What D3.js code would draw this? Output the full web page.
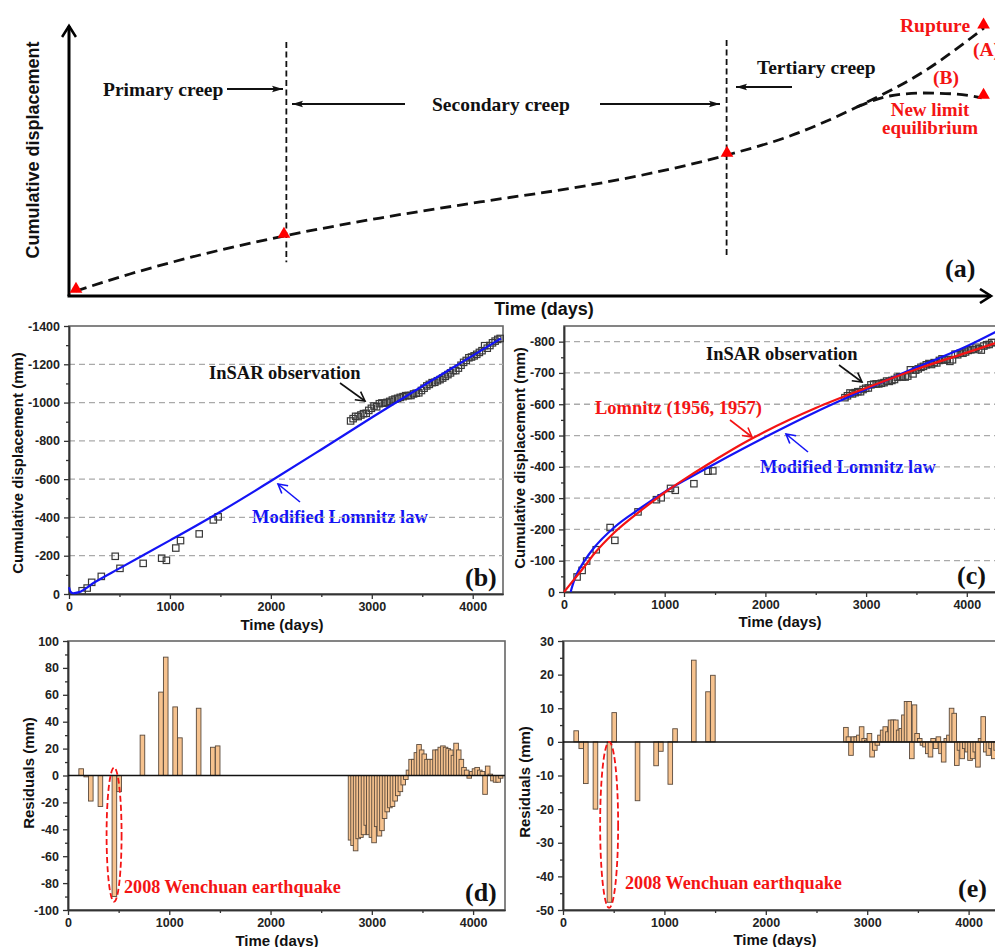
<!DOCTYPE html>
<html>
<head>
<meta charset="utf-8">
<script src="https://cdn.jsdelivr.net/npm/d3@7"></script>
<style>
  body { margin: 0; background: #fff; }
  .serif { font-family: "Liberation Serif", "Times New Roman", serif; font-weight: bold; }
  .sans { font-family: "Liberation Sans", Arial, sans-serif; font-weight: bold; }
</style>
</head>
<body>
<svg id="chart" width="995" height="947"></svg>
<script>
// ---- panel (a): schematic creep curve, arbitrary units (0-100) ----
const creepCurve = [[0.76, 1.85], [6.62, 8.12], [14.22, 15.13], [23.34, 22.14], [33.77, 28.78],
  [44.63, 34.69], [56.57, 40.96], [63.84, 45.76], [71.44, 52.03], [78.28, 59.04], [85.56, 69.74],
  [92.73, 82.66], [99.35, 98.89]];
const branchB = [[85.56, 69.74], [89.1, 73.8], [92.7, 74.9], [96.4, 74.5], [99.1, 73.1]];
const stagePoints = [[0.76, 1.85], [23.34, 22.14], [71.44, 52.03], [99.3, 99.3], [99.3, 73.4]];
const stageBounds = [[23.6, 12.5, 93.7], [71.4, 14.0, 94.5]];

// ---- InSAR observations (days, mm) ----
const obsDays = [130, 180, 225, 320, 458, 505, 735, 918, 965, 1058, 1105, 1290, 1430, 1478,
  2790, 2815, 2840, 2865, 2892, 2918, 2945, 2970, 2996, 3022, 3048, 3075, 3100, 3126, 3152, 3178,
  3204, 3230, 3256, 3282, 3310, 3336, 3362, 3388, 3414, 3440, 3466, 3492, 3518, 3545, 3570, 3598,
  3624, 3650, 3676, 3702, 3728, 3754, 3780, 3806, 3832, 3858, 3884, 3910, 3936, 3962, 3988, 4014,
  4040, 4066, 4092, 4118, 4144, 4170, 4196, 4222, 4248, 4272];
const obsB = [-17, -31, -61, -92, -197, -134, -160, -187, -176, -240, -279, -314, -387, -403,
  -904, -916, -928, -927, -935, -942, -944, -959, -970, -982, -978, -994, -998, -997, -1001, -1006,
  -1013, -1018, -1022, -1027, -1031, -1036, -1037, -1037, -1045, -1049, -1051, -1063, -1075, -1087, -1095, -1104,
  -1106, -1114, -1120, -1128, -1137, -1146, -1155, -1167, -1167, -1180, -1195, -1210, -1220, -1234, -1238, -1244,
  -1252, -1262, -1271, -1297, -1284, -1298, -1312, -1321, -1330, -1335];
const obsC = [-48, -69, -99, -135, -206, -165, -256, -295, -301, -331, -325, -346, -386, -387,
  -621, -627, -636, -633, -637, -640, -640, -647, -651, -652, -662, -664, -665, -665, -667, -669,
  -674, -673, -676, -679, -686, -688, -687, -687, -690, -710, -697, -709, -713, -718, -721, -726,
  -730, -727, -733, -732, -740, -745, -741, -743, -737, -742, -760, -758, -763, -763, -767, -772,
  -774, -775, -782, -777, -773, -786, -790, -791, -797, -797];
const residD = [5, -1, -19, -23, -90, -12, 30, 62, 88, 51, 28, 50, 21, 22,
  -48, -52, -56, -47, -46, -44, -37, -44, -46, -50, -38, -45, -41, -32, -27, -24,
  -23, -19, -15, -12, -7, -3, 4, 12, 12, 17, 23, 19, 16, 12, 12, 12,
  19, 19, 21, 22, 21, 20, 19, 15, 24, 19, 12, 6, 4, -2, 3, 5,
  6, 4, 3, -14, 7, 1, -4, -5, -5, -2];
const residE = [3.3, -2, -12.4, -20, -47.7, 8.7, -17.5, -7.1, -2.8, -12.6, 3.9, 24.3, 14.9, 19.8,
  4.3, 1.5, -4, 1.5, 1.5, 2, 4.5, 1, 0.5, 2.5, -4.5, -2.5, -1, 2, 3.5, 4.5,
  3, 6.5, 6.5, 6.5, 3.5, 4, 8, 12, 12, -5, 11, 2.5, 1, -1, -1.5, -3.5,
  -4.5, 1, -2, 1.5, -3.5, -6, 1, 2, 10, 8.5, -7, -2.5, -5, -2, -3, -5.5,
  -5, -3, -7.5, 1, 7.5, -3, -4, -2, -5, -2.5];

// ---- fitted models ----
const modelB = [[0, -35], [15, -12], [40, -4], [100, -10], [250, -60], [500, -134], [1000, -280],
  [1500, -430], [2000, -590], [2500, -755], [3000, -922], [3500, -1085], [4000, -1245], [4280, -1335]];
const lomnitzC = [[0, 0], [100, -40], [200, -80], [300, -122], [500, -190], [750, -257], [1000, -318],
  [1250, -372], [1500, -422], [1750, -470], [2000, -513], [2500, -588], [3000, -652], [3500, -712],
  [4000, -765], [4300, -797]];
const modLomnitzC = [[66, 0], [100, -36], [130, -60], [200, -98], [300, -142], [500, -207], [750, -266],
  [1000, -320], [1250, -366], [1500, -410], [2000, -495], [2500, -575], [3000, -648], [3500, -718],
  [4000, -785], [4300, -833]];

const quakeDay = 455;

// ---- ticks ----
const dayTicks = [0, 1000, 2000, 3000, 4000];
const dayMinor = [500, 1500, 2500, 3500];
const bTicks = [0, -200, -400, -600, -800, -1000, -1200, -1400];
const bMinor = [-100, -300, -500, -700, -900, -1100, -1300];
const cTicks = [0, -100, -200, -300, -400, -500, -600, -700, -800];
const cMinor = [-50, -150, -250, -350, -450, -550, -650, -750];
const dTicks = [100, 80, 60, 40, 20, 0, -20, -40, -60, -80, -100];
const dMinor = [90, 70, 50, 30, 10, -10, -30, -50, -70, -90];
const eTicks = [30, 20, 10, 0, -10, -20, -30, -40, -50];
const eMinor = [25, 15, 5, -5, -15, -25, -35, -45];

const BLUE = "#1414f5", RED = "#f41414", SANS = "Liberation Sans, Arial, sans-serif";
const svg = d3.select("#chart");

// markers
const defs = svg.append("defs");
defs.append("marker").attr("id", "fillArrow").attr("markerUnits", "userSpaceOnUse")
  .attr("markerWidth", 12).attr("markerHeight", 8).attr("refX", 11).attr("refY", 4).attr("orient", "auto")
  .append("path").attr("d", "M0,0.8L11,4L0,7.2L2,4Z").attr("fill", "#111");
[["openBlack", "#111"], ["openBlue", BLUE], ["openRed", RED]].forEach(([id, c]) => {
  defs.append("marker").attr("id", id).attr("markerUnits", "userSpaceOnUse")
    .attr("markerWidth", 12).attr("markerHeight", 12).attr("refX", 10).attr("refY", 6).attr("orient", "auto")
    .append("path").attr("d", "M1,1L10,6L1,11").attr("fill", "none").attr("stroke", c).attr("stroke-width", 1.6);
});
defs.append("marker").attr("id", "axisArrow").attr("markerUnits", "userSpaceOnUse")
  .attr("markerWidth", 16).attr("markerHeight", 16).attr("refX", 13).attr("refY", 8).attr("orient", "auto")
  .append("path").attr("d", "M2,1L13,8L2,15").attr("fill", "none").attr("stroke", "#000").attr("stroke-width", 2.6);

function text(x, y, str, cls, size, color, anchor) {
  return svg.append("text").attr("class", cls).attr("x", x).attr("y", y).attr("dy", "0.35em")
    .attr("font-size", size).attr("fill", color || "#111").attr("text-anchor", anchor || "start").text(str);
}
function arrow(x1, y1, x2, y2, color, marker, w) {
  svg.append("line").attr("x1", x1).attr("y1", y1).attr("x2", x2).attr("y2", y2)
    .attr("stroke", color).attr("stroke-width", w || 1.6).attr("marker-end", `url(#${marker})`);
}

// ================= (a) schematic =================
const xa = d3.scaleLinear().domain([0, 100]).range([69, 990]);
const ya = d3.scaleLinear().domain([0, 100]).range([296, 25]);

svg.append("line").attr("x1", xa(0)).attr("y1", ya(0)).attr("x2", xa(0)).attr("y2", 26)
  .attr("stroke", "#000").attr("stroke-width", 3).attr("marker-end", "url(#axisArrow)");
svg.append("line").attr("x1", xa(0) - 1.5).attr("y1", ya(0)).attr("x2", 991).attr("y2", ya(0))
  .attr("stroke", "#000").attr("stroke-width", 3).attr("marker-end", "url(#axisArrow)");

stageBounds.forEach(([t, lo, hi]) => {
  svg.append("line").attr("x1", xa(t)).attr("x2", xa(t)).attr("y1", ya(hi)).attr("y2", ya(lo))
    .attr("stroke", "#111").attr("stroke-width", 1.8).attr("stroke-dasharray", "6,3.5");
});

const lineA = d3.line().x(d => xa(d[0])).y(d => ya(d[1])).curve(d3.curveMonotoneX);
[creepCurve, branchB].forEach(pts => {
  svg.append("path").attr("d", lineA(pts)).attr("fill", "none").attr("stroke", "#111")
    .attr("stroke-width", 2.8).attr("stroke-dasharray", "11,6");
});
svg.append("g").selectAll("path").data(stagePoints).join("path")
  .attr("transform", d => `translate(${xa(d[0])},${ya(d[1]) - 2})`)
  .attr("d", d3.symbol(d3.symbolTriangle, 70)).attr("fill", "#ff0000");

text(103, 89, "Primary creep", "serif", 19.5);
arrow(227, 89, 283, 89, "#111", "fillArrow", 2);
text(432, 104, "Secondary creep", "serif", 19.5);
arrow(405, 104, 292, 104, "#111", "fillArrow", 2);
arrow(600, 104, 720, 104, "#111", "fillArrow", 2);
text(757, 67, "Tertiary creep", "serif", 19.5);
arrow(792, 87, 736, 87, "#111", "fillArrow", 2);
text(900, 25, "Rupture", "serif", 19.5, RED);
text(973, 49, "(A)", "serif", 19.5, RED);
text(933, 77, "(B)", "serif", 19.5, RED);
text(930, 109, "New limit", "serif", 19, RED, "middle");
text(930, 127, "equilibrium", "serif", 19, RED, "middle");
text(945, 268, "(a)", "serif", 26);
text(33, 150, "Cumulative displacement", "sans", 18, "#111", "middle")
  .attr("transform", "rotate(-90,33,150)");
text(544, 309, "Time (days)", "sans", 18, "#111", "middle");

// ================= data panels =================
function makePanel(xr, yr, xd, yd) {
  return { x: d3.scaleLinear().domain(xd).range(xr), y: d3.scaleLinear().domain(yd).range(yr) };
}
function styleAxis(g) {
  g.select(".domain").attr("stroke", "#333").attr("stroke-width", 1.5);
  g.selectAll(".tick line").attr("stroke", "#333").attr("stroke-width", 1.3);
  g.selectAll(".tick text").attr("font-family", SANS).attr("font-weight", "bold")
    .attr("font-size", 12.5).attr("fill", "#222");
}
function drawAxes(p, xT, xM, yT, yM, grid) {
  const [l, r] = p.x.range(), [b, t] = p.y.range();
  svg.append("rect").attr("x", l).attr("y", t).attr("width", r - l).attr("height", b - t)
    .attr("fill", "none").attr("stroke", "#666").attr("stroke-width", 1.6);
  if (grid) {
    svg.append("g").selectAll("line").data(grid).join("line")
      .attr("x1", l).attr("x2", r).attr("y1", d => p.y(d)).attr("y2", d => p.y(d))
      .attr("stroke", "#aaa").attr("stroke-width", 1.3).attr("stroke-dasharray", "6,4");
  }
  const fmt = d => String(d);
  svg.append("g").attr("transform", `translate(0,${b})`)
    .call(d3.axisBottom(p.x).tickValues(xT).tickSize(5).tickSizeOuter(0).tickPadding(3).tickFormat(fmt)).call(styleAxis);
  svg.append("g").attr("transform", `translate(0,${b})`)
    .call(d3.axisBottom(p.x).tickValues(xM).tickSize(3).tickSizeOuter(0).tickFormat("")).call(styleAxis);
  svg.append("g").attr("transform", `translate(${l},0)`)
    .call(d3.axisLeft(p.y).tickValues(yT).tickSize(5).tickSizeOuter(0).tickPadding(4).tickFormat(fmt)).call(styleAxis);
  svg.append("g").attr("transform", `translate(${l},0)`)
    .call(d3.axisLeft(p.y).tickValues(yM).tickSize(3).tickSizeOuter(0).tickFormat("")).call(styleAxis);
}
function drawSquares(p, vals) {
  svg.append("g").selectAll("rect").data(obsDays).join("rect")
    .attr("x", (d) => p.x(d) - 3.2).attr("y", (d, i) => p.y(vals[i]) - 3.2)
    .attr("width", 6.4).attr("height", 6.4)
    .attr("fill", "none").attr("stroke", "#3a3a3a").attr("stroke-width", 1.2);
}
function drawModel(p, pts, color) {
  const ln = d3.line().x(d => p.x(d[0])).y(d => p.y(d[1])).curve(d3.curveMonotoneX);
  svg.append("path").attr("d", ln(pts)).attr("fill", "none").attr("stroke", color).attr("stroke-width", 2.2);
}
function drawBars(p, vals) {
  const bw = 4.6;
  svg.append("g").selectAll("rect").data(obsDays).join("rect")
    .attr("x", d => p.x(d) - bw / 2).attr("width", bw)
    .attr("y", (d, i) => p.y(Math.max(0, vals[i])))
    .attr("height", (d, i) => Math.abs(p.y(vals[i]) - p.y(0)))
    .attr("fill", "#f6c28e").attr("stroke", "#5a4a3c").attr("stroke-width", 0.9);
  svg.append("line").attr("x1", p.x.range()[0]).attr("x2", p.x.range()[1])
    .attr("y1", p.y(0)).attr("y2", p.y(0)).attr("stroke", "#111").attr("stroke-width", 1.5);
}

// ---- (b) ----
const pb = makePanel([69, 503], [594, 326], [0, 4300], [0, -1400]);
text(252, 517, "Modified Lomnitz law", "serif", 18.5, BLUE);
drawAxes(pb, dayTicks, dayMinor, bTicks, bMinor, [-200, -400, -600, -800, -1000, -1200]);
drawSquares(pb, obsB);
drawModel(pb, modelB, BLUE);
text(209, 373, "InSAR observation", "serif", 18.5);
arrow(340, 383, 365, 401, "#111", "openBlack");
arrow(300, 502, 278, 484, BLUE, "openBlue");
text(465, 577, "(b)", "serif", 26);
text(18, 463, "Cumulative displacement (mm)", "sans", 15, "#111", "middle").attr("transform", "rotate(-90,18,463)");
text(282, 625, "Time (days)", "sans", 15, "#111", "middle");

// ---- (c) ----
const pc = makePanel([564, 997], [592, 326], [0, 4300], [0, -850]);
text(760, 467, "Modified Lomnitz law", "serif", 18.5, BLUE);
drawAxes(pc, dayTicks, dayMinor, cTicks, cMinor, [-100, -200, -300, -400, -500, -600, -700, -800]);
drawSquares(pc, obsC);
drawModel(pc, modLomnitzC, BLUE);
drawModel(pc, lomnitzC, RED);
text(706, 354, "InSAR observation", "serif", 18.5);
arrow(839, 365, 862, 382, "#111", "openBlack");
text(595, 408, "Lomnitz (1956, 1957)", "serif", 18.5, RED);
arrow(730, 420, 752, 437, RED, "openRed");
arrow(808, 452, 786, 434, BLUE, "openBlue");
text(957, 575, "(c)", "serif", 26);
text(520, 458, "Cumulative displacement (mm)", "sans", 15, "#111", "middle").attr("transform", "rotate(-90,520,458)");
text(780, 622, "Time (days)", "sans", 15, "#111", "middle");

// ---- (d) ----
const pd = makePanel([68, 505], [910, 641], [0, 4315], [-100, 100]);
drawAxes(pd, dayTicks, dayMinor, dTicks, dMinor, null);
drawBars(pd, residD);
svg.append("ellipse").attr("cx", pd.x(quakeDay)).attr("cy", pd.y(-44)).attr("rx", 7.5).attr("ry", 67)
  .attr("fill", "none").attr("stroke", RED).attr("stroke-width", 1.8).attr("stroke-dasharray", "6,3");
text(124, 887, "2008 Wenchuan earthquake", "serif", 18.2, RED);
text(465, 892, "(d)", "serif", 26);
text(29, 773, "Residuals (mm)", "sans", 15, "#111", "middle").attr("transform", "rotate(-90,29,773)");
text(277, 941, "Time (days)", "sans", 15, "#111", "middle");

// ---- (e) ----
const pe = makePanel([563, 997], [910, 641], [0, 4280], [-50, 30]);
drawAxes(pe, dayTicks, dayMinor, eTicks, eMinor, null);
drawBars(pe, residE);
svg.append("ellipse").attr("cx", pe.x(quakeDay)).attr("cy", pe.y(-24.7)).attr("rx", 9).attr("ry", 83)
  .attr("fill", "none").attr("stroke", RED).attr("stroke-width", 1.8).attr("stroke-dasharray", "6,3");
text(625, 883, "2008 Wenchuan earthquake", "serif", 18.2, RED);
text(958, 888, "(e)", "serif", 26);
text(525, 782, "Residuals (mm)", "sans", 15, "#111", "middle").attr("transform", "rotate(-90,525,782)");
text(775, 940, "Time (days)", "sans", 15, "#111", "middle");
</script>
</body>
</html>
